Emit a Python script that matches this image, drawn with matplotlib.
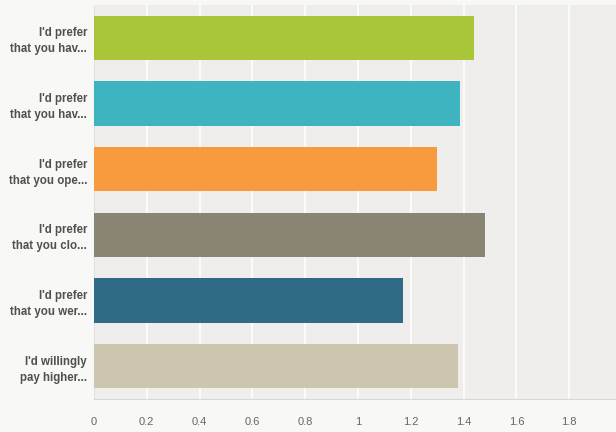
import matplotlib.pyplot as plt

# labels de cima para baixo
rotulos = ["I'd prefer\nthat you hav...", "I'd prefer\nthat you hav...", "I'd prefer\nthat you ope...",
           "I'd prefer\nthat you clo...", "I'd prefer\nthat you wer...", "I'd willingly\npay higher..."]
valores = [1.44, 1.385, 1.30, 1.48, 1.17, 1.38]
cores = ['#a9c53a', '#3db4c0', '#f89a3e', '#8a8474', '#2f6a87', '#cdc6ae']
ticks_x = [0, 0.2, 0.4, 0.6, 0.8, 1, 1.2, 1.4, 1.6, 1.8, 2]

fig = plt.figure(figsize=(6.16, 4.32), dpi=100)
fig.patch.set_facecolor('#f8f8f6')
ax = fig.add_axes([94/616, 33/432, 528/616, 394/432])
ax.set_facecolor('#efeeec')

pos = list(range(len(valores)))
ax.barh(pos, valores, height=0.68, color=cores, zorder=3)
ax.set_ylim(len(valores) - 0.5, -0.5)
ax.set_xlim(0, 2)

ax.set_xticks(ticks_x)
ax.set_xticklabels([('%g' % t) for t in ticks_x], fontsize=8, color='#666666', family='Liberation Sans')
ax.set_yticks(pos)
ax.set_yticklabels(rotulos, fontsize=8.3, fontweight='bold', color='#505050', family='Liberation Sans',
                   linespacing=1.45)
ax.tick_params(axis='x', length=0, pad=13)
ax.tick_params(axis='y', length=0, pad=5)

ax.grid(axis='x', color='white', linewidth=1.1, zorder=1)
for lado in ['top', 'right']:
    ax.spines[lado].set_visible(False)
ax.spines['bottom'].set_color('#d6d6d4')
ax.spines['left'].set_color('#e2e2e0')

fig.savefig('out.png', dpi=100, facecolor=fig.get_facecolor())
